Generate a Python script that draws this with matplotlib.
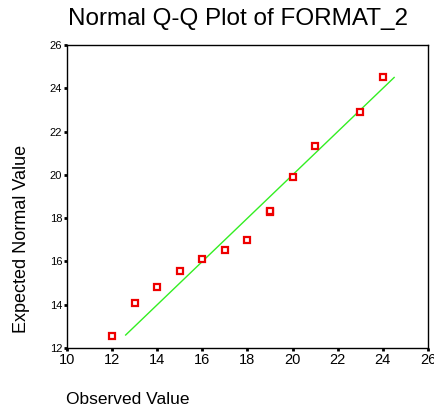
import numpy as np
import matplotlib
matplotlib.use("Agg")
import matplotlib.pyplot as plt

observed = [12, 13, 14, 15, 16, 17, 18, 19, 19, 20, 21, 23, 24]
expected = [12.54, 14.09, 14.82, 15.55, 16.12, 16.53, 17.0, 18.28, 18.32, 19.89, 21.33, 22.89, 24.5]

# reference line y = x
line_x = [12.6, 24.5]
line_y = [12.6, 24.5]

x_ticks = [10, 12, 14, 16, 18, 20, 22, 24, 26]
y_ticks = [12, 14, 16, 18, 20, 22, 24, 26]

plt.rcParams["font.family"] = ["Liberation Sans", "DejaVu Sans"]

fig = plt.figure(figsize=(4.35, 4.08), dpi=100)
ax = fig.add_axes([67 / 435, 60 / 408, 361 / 435, 303 / 408])

ax.plot(line_x, line_y, color="#33ee22", lw=1.0, zorder=2)
ax.plot(observed, expected, linestyle="none", marker="s", markersize=4.8,
        markerfacecolor="white", markeredgecolor="#ee0000", markeredgewidth=1.6,
        zorder=3)

ax.set_xlim(10, 26)
ax.set_ylim(12, 26)
ax.set_xticks(x_ticks)
ax.set_yticks(y_ticks)
ax.tick_params(axis="both", direction="out", length=2.5, width=2, color="black")
ax.tick_params(axis="x", labelsize=10.5, pad=1)
ax.tick_params(axis="y", labelsize=8, pad=1)

for sp in ax.spines.values():
    sp.set_color("black")
    sp.set_linewidth(1.0)

fig.text(238 / 435, 1 - 19 / 408, "Normal Q-Q Plot of FORMAT_2",
         ha="center", va="center", fontsize=17.5)
fig.text(66 / 435, 1 - 399 / 408, "Observed Value",
         ha="left", va="center", fontsize=12.5)
fig.text(22 / 435, 1 - 239 / 408, "Expected Normal Value",
         ha="center", va="center", rotation=90, fontsize=13)

fig.savefig("out.png", dpi=100)
